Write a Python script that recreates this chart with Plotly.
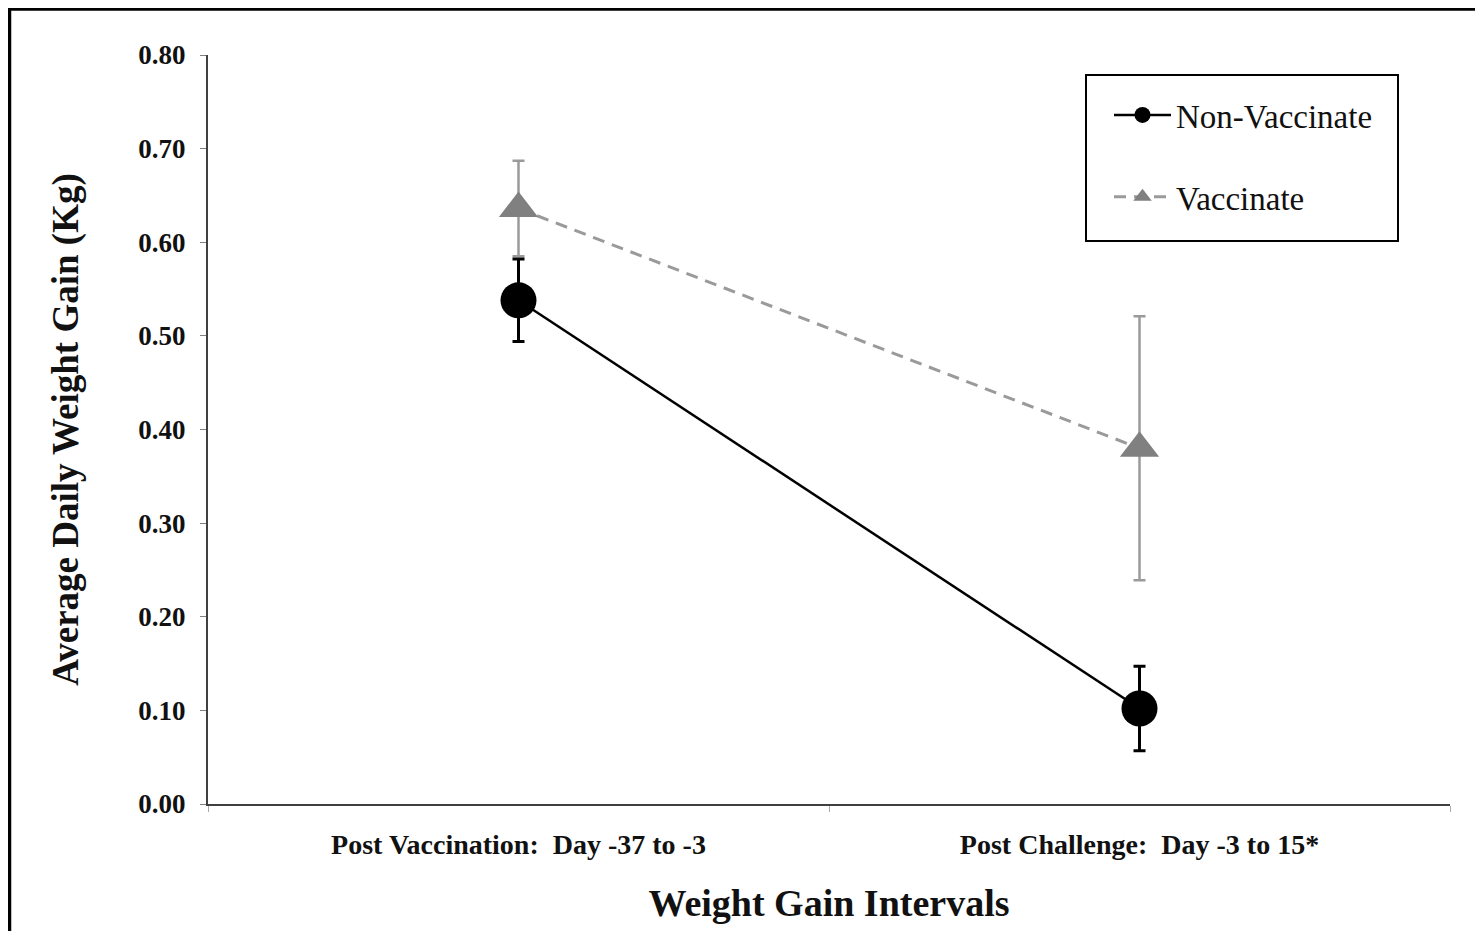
import plotly.graph_objects as go

categories = ["Post Vaccination:\u00a0 Day -37 to -3", "Post Challenge:\u00a0 Day -3 to 15*"]
non_vacc = [0.538, 0.102]
non_vacc_err = [0.044, 0.045]
vacc = [0.636, 0.380]
vacc_err = [0.051, 0.141]
y_ticks = [0.0, 0.1, 0.2, 0.3, 0.4, 0.5, 0.6, 0.7, 0.8]
y_tick_text = [f"{v:.2f}" for v in y_ticks]

SERIF = "Liberation Serif, Times New Roman, serif"

# figure geometry (page body has an 8px margin)
W, H = 1467, 923
L, R, T, B = 200, 25, 47, 127
PW, PH = W - L - R, H - T - B


def px(xf):
    return (xf - L) / PW


def py(yf):
    return (H - B - yf) / PH


fig = go.Figure()
fig.add_trace(go.Scatter(
    x=categories, y=vacc, name="Vaccinate", mode="lines+markers",
    legendgroup="b", legendrank=2,
    line=dict(color="#9a9a9a", width=3, dash="12px,8px"),
    marker=dict(symbol="triangle-up", size=34, color="#808080"),
    error_y=dict(type="data", array=vacc_err, color="#9a9a9a", thickness=2.5, width=6),
))
fig.add_trace(go.Scatter(
    x=categories, y=non_vacc, name="Non-Vaccinate", mode="lines+markers",
    legendgroup="a", legendrank=1,
    line=dict(color="#000000", width=2.5),
    marker=dict(symbol="circle", size=36, color="#000000"),
    error_y=dict(type="data", array=non_vacc_err, color="#000000", thickness=3, width=6),
))

fig.update_layout(
    width=W, height=H,
    margin=dict(l=L, r=R, t=T, b=B),
    paper_bgcolor="white", plot_bgcolor="white",
    showlegend=True,
    legend=dict(
        x=px(1101), y=py(79), xanchor="left", yanchor="top",
        borderwidth=0, bgcolor="rgba(0,0,0,0)",
        font=dict(family=SERIF, size=33, color="#111111"),
        tracegroupgap=36, itemwidth=57, traceorder="grouped",
    ),
    xaxis=dict(
        type="category", range=[-0.5, 1.5], tickson="boundaries",
        showline=True, linecolor="#404040", linewidth=2,
        ticks="outside", ticklen=6, tickcolor="#aaaaaa", tickwidth=1,
        showgrid=False, zeroline=False,
        tickfont=dict(family=SERIF, size=28, color="#111111", weight="bold"),
        ticklabelstandoff=14,
        title=dict(text="<b>Weight Gain Intervals</b>", standoff=31,
                   font=dict(family=SERIF, size=38, color="#111111")),
    ),
    yaxis=dict(
        range=[0, 0.8], tickvals=y_ticks, ticktext=y_tick_text,
        showline=True, linecolor="#404040", linewidth=2,
        ticks="outside", ticklen=6, tickcolor="#808080", tickwidth=1,
        showgrid=False, zeroline=False,
        tickfont=dict(family=SERIF, size=27, color="#111111", weight="bold"),
        ticklabelstandoff=9,
        title=dict(text="<b>Average Daily Weight Gain (Kg)</b>", standoff=48,
                   font=dict(family=SERIF, size=37, color="#111111")),
    ),
    shapes=[
        dict(type="rect", xref="paper", yref="paper",
             x0=px(1.5), x1=1.2, y0=-0.4, y1=py(1),
             line=dict(color="#000000", width=3.5), fillcolor="rgba(0,0,0,0)", layer="above"),
        dict(type="rect", xref="paper", yref="paper",
             x0=px(1078), x1=px(1390), y0=py(233), y1=py(67),
             line=dict(color="#000000", width=2), fillcolor="white", layer="below"),
    ],
)

fig.write_html("out.html")
